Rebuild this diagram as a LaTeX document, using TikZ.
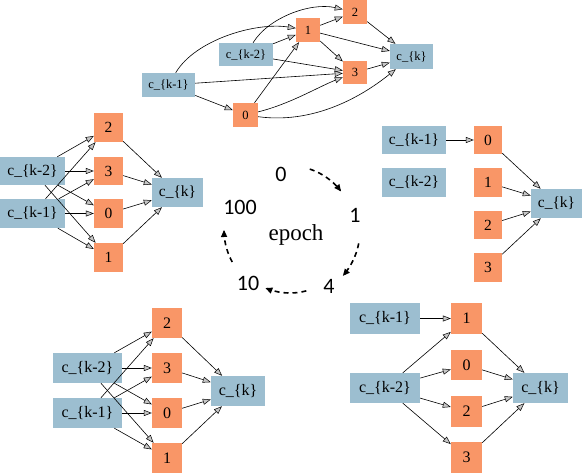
\documentclass[tikz,border=0pt]{standalone}
\usepackage{fontspec}
\setmainfont{Liberation Serif}
\newfontfamily\numfont{Carlito}
\newfontfamily\boxfont{Liberation Serif}
\usetikzlibrary{arrows.meta}
\definecolor{cblue}{RGB}{156,190,208}
\definecolor{corange}{RGB}{249,150,103}
\tikzset{
  bnode/.style={fill=cblue, inner sep=0pt, font=\boxfont\fontsize{#1}{#1}\selectfont},
  onode/.style={fill=corange, inner sep=0pt, font=\boxfont\fontsize{#1}{#1}\selectfont},
  e/.style={draw, line width=0.6pt, -{Triangle[fill=gray!45, length=8pt, width=6pt, line width=0.5pt]}},
  epocharrow/.style={line width=1.6pt, dash pattern=on 5pt off 4pt, -{Triangle[length=7pt, width=6pt]}},
  numlabel/.style={font=\numfont\fontsize{22}{22}\selectfont, inner sep=0pt},
}
\begin{document}
\begin{tikzpicture}[x=1pt, y=-1pt]
\useasboundingbox (0,0) rectangle (582,474);
\fill[white] (0,0) rectangle (582,474);

% ---------- top graph ----------
\node[bnode=12.5, minimum width=53pt, minimum height=24pt] (tk1) at (168.5,85) {c\_\{k-1\}};
\node[bnode=12.5, minimum width=54pt, minimum height=23pt] (tk2) at (246,54.5) {c\_\{k-2\}};
\node[onode=12.5, minimum width=25pt, minimum height=24pt] (t0) at (245.5,115) {0};
\node[onode=12.5, minimum width=24pt, minimum height=24pt] (t1) at (308,30) {1};
\node[onode=12.5, minimum width=24pt, minimum height=24pt] (t2) at (355,12) {2};
\node[onode=12.5, minimum width=24pt, minimum height=23pt] (t3) at (355,72.5) {3};
\node[bnode=12.5, minimum width=43pt, minimum height=25pt] (tk) at (411.5,56.5) {c\_\{k\}};
\draw[e] (tk1) .. controls (195,40) and (255,22) .. (t1);
\draw[e] (tk1) -- (t3);
\draw[e] (tk1) -- (t0);
\draw[e] (tk2) .. controls (268,18) and (310,2) .. (t2);
\draw[e] (tk2) -- (t1);
\draw[e] (tk2) -- (t3);
\draw[e] (t0) -- (t1);
\draw[e] (t0) .. controls (290,104) and (318,87) .. (t3);
\draw[e] (t0) .. controls (320,125) and (370,90) .. (tk);
\draw[e] (t1) -- (t2);
\draw[e] (t1) -- (tk);
\draw[e] (t1) -- (t3);
\draw[e] (t2) -- (tk);
\draw[e] (t3) -- (tk);

% ---------- left graph ----------
\node[bnode=15.5, minimum width=65pt, minimum height=28pt] (lk2) at (32.5,171) {c\_\{k-2\}};
\node[bnode=15.5, minimum width=65pt, minimum height=29pt] (lk1) at (32.5,213.5) {c\_\{k-1\}};
\node[onode=15.5, minimum width=29pt, minimum height=29pt] (l2) at (108.5,127.5) {2};
\node[onode=15.5, minimum width=29pt, minimum height=28pt] (l3) at (108.5,171) {3};
\node[onode=15.5, minimum width=29pt, minimum height=29pt] (l0) at (108.5,213.5) {0};
\node[onode=15.5, minimum width=29pt, minimum height=29pt] (l1) at (108.5,257.5) {1};
\node[bnode=15.5, minimum width=51pt, minimum height=29pt] (lk) at (177.5,192.5) {c\_\{k\}};
\foreach \s in {lk2,lk1}{\foreach \t in {l2,l3,l0,l1}{\draw[e] (\s) -- (\t);}}
\foreach \t in {l2,l3,l0,l1}{\draw[e] (\t) -- (lk);}

% ---------- right graph ----------
\node[bnode=15.5, minimum width=64pt, minimum height=28pt] (rk1) at (414,140) {c\_\{k-1\}};
\node[bnode=15.5, minimum width=64pt, minimum height=29pt] (rk2) at (414,182.5) {c\_\{k-2\}};
\node[onode=15.5, minimum width=28pt, minimum height=28pt] (r0) at (488,140) {0};
\node[onode=15.5, minimum width=28pt, minimum height=29pt] (r1) at (488,182.5) {1};
\node[onode=15.5, minimum width=28pt, minimum height=28pt] (r2) at (488,225) {2};
\node[onode=15.5, minimum width=28pt, minimum height=29pt] (r3) at (488,267.5) {3};
\node[bnode=15.5, minimum width=51pt, minimum height=29pt] (rk) at (556.5,203.5) {c\_\{k\}};
\draw[e] (rk1) -- (r0);
\foreach \t in {r0,r1,r2,r3}{\draw[e] (\t) -- (rk);}

% ---------- bottom-left graph ----------
\node[bnode=16, minimum width=69pt, minimum height=30pt] (bk2) at (87.5,368) {c\_\{k-2\}};
\node[bnode=16, minimum width=69pt, minimum height=30pt] (bk1) at (87.5,413) {c\_\{k-1\}};
\node[onode=16, minimum width=30pt, minimum height=30pt] (b2) at (167,323) {2};
\node[onode=16, minimum width=30pt, minimum height=30pt] (b3) at (167,368) {3};
\node[onode=16, minimum width=30pt, minimum height=30pt] (b0) at (167,413) {0};
\node[onode=16, minimum width=30pt, minimum height=30pt] (b1) at (167,458) {1};
\node[bnode=16, minimum width=54pt, minimum height=30pt] (bk) at (238,391) {c\_\{k\}};
\foreach \s in {bk2,bk1}{\foreach \t in {b2,b3,b0,b1}{\draw[e] (\s) -- (\t);}}
\foreach \t in {b2,b3,b0,b1}{\draw[e] (\t) -- (bk);}

% ---------- bottom-right graph ----------
\node[bnode=16, minimum width=70pt, minimum height=31pt] (ck1) at (385,318.5) {c\_\{k-1\}};
\node[bnode=16, minimum width=70pt, minimum height=30pt] (ck2) at (385,388) {c\_\{k-2\}};
\node[onode=16, minimum width=31pt, minimum height=31pt] (c1) at (466.5,318.5) {1};
\node[onode=16, minimum width=31pt, minimum height=30pt] (c0) at (466.5,365) {0};
\node[onode=16, minimum width=31pt, minimum height=31pt] (c2) at (466.5,411.5) {2};
\node[onode=16, minimum width=31pt, minimum height=31pt] (c3) at (466.5,457.5) {3};
\node[bnode=16, minimum width=55pt, minimum height=30pt] (ck) at (540.5,388) {c\_\{k\}};
\draw[e] (ck1) -- (c1);
\foreach \t in {c1,c0,c2,c3}{\draw[e] (ck2) -- (\t);}
\foreach \t in {c1,c0,c2,c3}{\draw[e] (\t) -- (ck);}

% ---------- epoch cycle ----------
\node[font=\boxfont\fontsize{23}{23}\selectfont, inner sep=0pt] (ep) at (296,235) {epoch};
\node[numlabel] (n0) at (281,174) {0};
\node[numlabel] (n1) at (355,215) {1};
\node[numlabel] (n4) at (329,286) {4};
\node[numlabel] (n10) at (248,283) {10};
\node[numlabel] (n100) at (240,207) {100};
\draw[epocharrow] plot[domain=-72:-37, samples=25] ({290+64*cos(\x)}, {230+64*sin(\x)});
\draw[epocharrow] plot[domain=11:41, samples=25] ({290+70*cos(\x)}, {230+70*sin(\x)});
\draw[epocharrow] plot[domain=75:113, samples=25] ({290+63*cos(\x)}, {230+63*sin(\x)});
\draw[epocharrow] plot[domain=151:180, samples=25] ({290+66*cos(\x)}, {230+66*sin(\x)});
\end{tikzpicture}
\end{document}
